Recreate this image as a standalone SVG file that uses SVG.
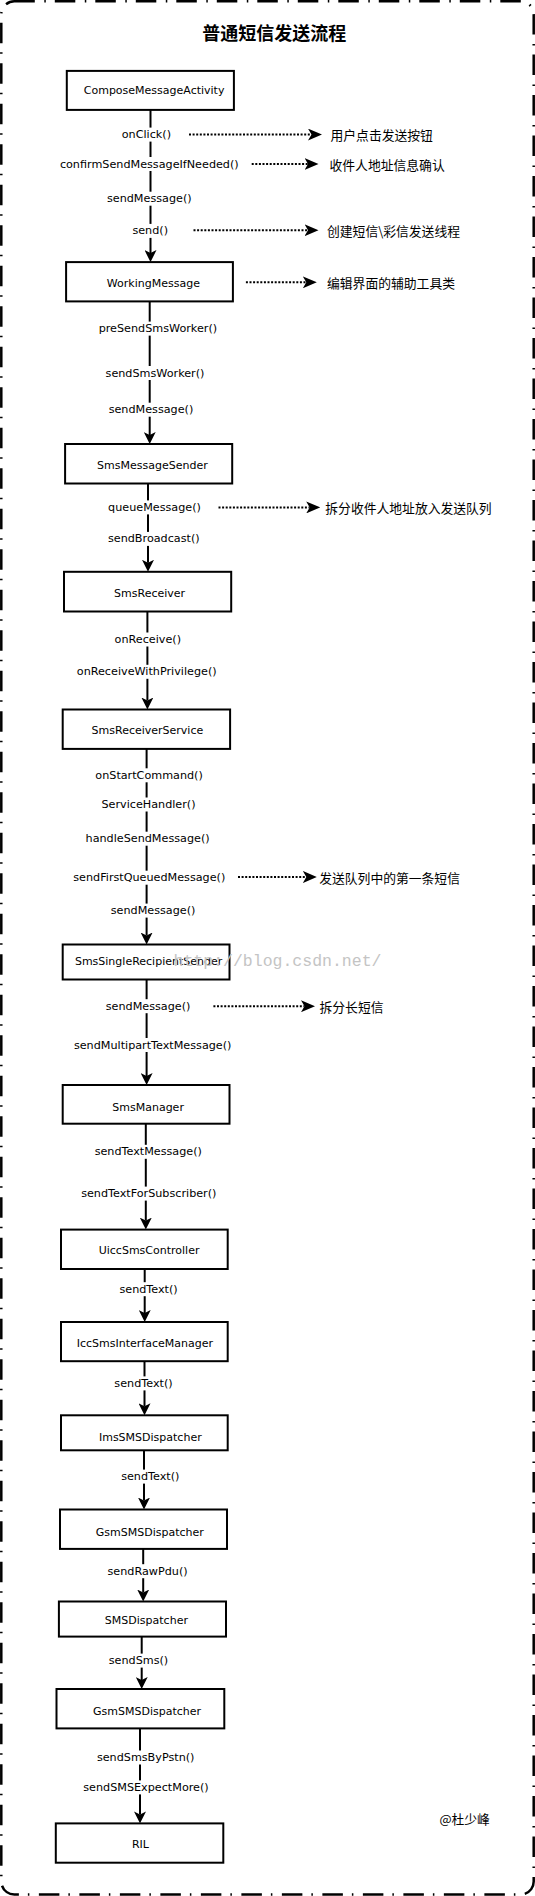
<svg xmlns="http://www.w3.org/2000/svg" width="535" height="1896" viewBox="0 0 535 1896">
<style>
.frame{fill:none;stroke:#000;stroke-width:2.5;stroke-dasharray:20.5 9.5 1.5 9}
.box{fill:#fff;stroke:#000;stroke-width:2}
.nt{font-family:"DejaVu Sans","Liberation Sans",sans-serif;font-size:11px;fill:#000;text-anchor:middle;dominant-baseline:central}
.lb{font-family:"DejaVu Sans","Liberation Sans",sans-serif;font-size:11.2px;fill:#000;text-anchor:middle;dominant-baseline:central}
.cn{font-family:"Noto Sans CJK SC","Noto Sans",sans-serif;font-size:12.8px;fill:#000;dominant-baseline:central}
.title{font-family:"Noto Sans CJK SC","Noto Sans",sans-serif;font-size:18px;font-weight:bold;fill:#000;text-anchor:middle;dominant-baseline:central}
.flow{fill:none;stroke:#000;stroke-width:2;marker-end:url(#ah)}
.dot{fill:none;stroke:#000;stroke-width:2;stroke-dasharray:2 1.6;marker-end:url(#ahd)}
.bg{fill:#fff}
.wm{font-family:"Liberation Mono","DejaVu Sans Mono",monospace;font-size:16.5px;fill:#c4c4c4;text-anchor:middle;dominant-baseline:central}
</style>
<defs>
<marker id="ah" markerUnits="userSpaceOnUse" markerWidth="12" markerHeight="12" viewBox="0 0 12 12" refX="3" refY="6" orient="auto">
<path d="M0,0 L12,6 L0,12 L3,6 Z" fill="#000"/>
</marker>
<marker id="ahd" markerUnits="userSpaceOnUse" markerWidth="14" markerHeight="12" viewBox="0 0 14 12" refX="3.5" refY="6" orient="auto">
<path d="M0,0 L14,6 L0,12 L3.5,6 Z" fill="#000"/>
</marker>
</defs>
<rect width="535" height="1896" fill="#fff"/>
<rect class="frame" x="1.3" y="1.3" width="532.4" height="1893.2" rx="13" ry="13"/>
<text class="title" x="274.3" y="31.7">普通短信发送流程</text>

<g id="connectors">
<path class="flow" d="M150.5,110 V253.1"/>
<path class="flow" d="M149.7,301.4 V435"/>
<path class="flow" d="M148,483.5 V562.8"/>
<path class="flow" d="M147.4,611.5 V700.5"/>
<path class="flow" d="M146.6,749 V935.5"/>
<path class="flow" d="M146.6,979.5 V1076"/>
<path class="flow" d="M145.8,1123.7 V1220.6"/>
<path class="flow" d="M144.7,1269 V1313"/>
<path class="flow" d="M144.5,1361.2 V1406.3"/>
<path class="flow" d="M144,1450.3 V1500.5"/>
<path class="flow" d="M143.2,1549 V1592.5"/>
<path class="flow" d="M141.7,1636.6 V1680"/>
<path class="flow" d="M140,1728.4 V1814.4"/>

<path class="dot" d="M189,134.6 H311.5"/>
<path class="dot" d="M251.7,164 H308"/>
<path class="dot" d="M193.5,230.2 H308"/>
<path class="dot" d="M245.9,282.3 H306.3"/>
<path class="dot" d="M218.5,507.4 H309.7"/>
<path class="dot" d="M238,877 H306.3"/>
<path class="dot" d="M213.4,1006.2 H304.5"/>

<g id="edge-labels">
<rect class="bg" x="119.6" y="127.6" width="53.6" height="14"/><text class="lb" x="146.4" y="134.6">onClick()</text>
<rect class="bg" x="56.9" y="157" width="184.8" height="14"/><text class="lb" x="149.3" y="164">confirmSendMessageIfNeeded()</text>
<rect class="bg" x="104.8" y="191.7" width="89" height="14"/><text class="lb" x="149.3" y="198.7">sendMessage()</text>
<rect class="bg" x="129.8" y="223.9" width="40.7" height="14"/><text class="lb" x="150.2" y="230.9">send()</text>
<rect class="bg" x="95.6" y="321.6" width="124.6" height="14"/><text class="lb" x="157.9" y="328.6">preSendSmsWorker()</text>
<rect class="bg" x="102.5" y="366" width="105" height="14"/><text class="lb" x="155" y="373">sendSmsWorker()</text>
<rect class="bg" x="106.6" y="402.7" width="88.9" height="14"/><text class="lb" x="151" y="409.7">sendMessage()</text>
<rect class="bg" x="105.9" y="500.4" width="97.1" height="14"/><text class="lb" x="154.5" y="507.4">queueMessage()</text>
<rect class="bg" x="105.9" y="531.9" width="95.8" height="14"/><text class="lb" x="153.8" y="538.9">sendBroadcast()</text>
<rect class="bg" x="112" y="632.5" width="71.5" height="14"/><text class="lb" x="147.8" y="639.5">onReceive()</text>
<rect class="bg" x="74" y="664.8" width="145.5" height="14"/><text class="lb" x="146.7" y="671.8">onReceiveWithPrivilege()</text>
<rect class="bg" x="93.2" y="768.3" width="111.8" height="14"/><text class="lb" x="149.1" y="775.3">onStartCommand()</text>
<rect class="bg" x="99.7" y="797.5" width="97.5" height="14"/><text class="lb" x="148.5" y="804.5">ServiceHandler()</text>
<rect class="bg" x="83.6" y="831.7" width="128" height="14"/><text class="lb" x="147.6" y="838.7">handleSendMessage()</text>
<rect class="bg" x="70.6" y="870.7" width="157.4" height="14"/><text class="lb" x="149.3" y="877.7">sendFirstQueuedMessage()</text>
<rect class="bg" x="108.3" y="903.6" width="89.6" height="14"/><text class="lb" x="153.1" y="910.6">sendMessage()</text>
<rect class="bg" x="103.5" y="999.2" width="89.3" height="14"/><text class="lb" x="148.1" y="1006.2">sendMessage()</text>
<rect class="bg" x="70.6" y="1038" width="164.3" height="14"/><text class="lb" x="152.7" y="1045">sendMultipartTextMessage()</text>
<rect class="bg" x="91.5" y="1144.8" width="113.6" height="14"/><text class="lb" x="148.3" y="1151.8">sendTextMessage()</text>
<rect class="bg" x="77.5" y="1186.6" width="142.7" height="14"/><text class="lb" x="148.8" y="1193.6">sendTextForSubscriber()</text>
<rect class="bg" x="115.5" y="1282.2" width="66.3" height="14"/><text class="lb" x="148.6" y="1289.2">sendText()</text>
<rect class="bg" x="110.3" y="1376.4" width="66.4" height="14"/><text class="lb" x="143.5" y="1383.4">sendText()</text>
<rect class="bg" x="117.2" y="1469.6" width="66.3" height="14"/><text class="lb" x="150.3" y="1476.6">sendText()</text>
<rect class="bg" x="104.8" y="1564.2" width="85.6" height="14"/><text class="lb" x="147.6" y="1571.2">sendRawPdu()</text>
<rect class="bg" x="106.6" y="1653.6" width="63.9" height="14"/><text class="lb" x="138.5" y="1660.6">sendSms()</text>
<rect class="bg" x="94.9" y="1750.5" width="101.6" height="14"/><text class="lb" x="145.7" y="1757.5">sendSmsByPstn()</text>
<rect class="bg" x="80.2" y="1780.4" width="131.7" height="14"/><text class="lb" x="146" y="1787.4">sendSMSExpectMore()</text>
</g>
</g>

<g id="notes">
<text class="cn" x="330.5" y="134.6">用户点击发送按钮</text>
<text class="cn" x="329.5" y="164">收件人地址信息确认</text>
<text class="cn" x="327" y="230.2">创建短信\彩信发送线程</text>
<text class="cn" x="327" y="282.3">编辑界面的辅助工具类</text>
<text class="cn" x="325.3" y="507.4">拆分收件人地址放入发送队列</text>
<text class="cn" x="319.2" y="877">发送队列中的第一条短信</text>
<text class="cn" x="319.5" y="1006.2">拆分长短信</text>
</g>

<g id="n1"><rect class="box" x="66.8" y="70.9" width="167.1" height="39"/><text class="nt" x="154.1" y="90.9">ComposeMessageActivity</text></g>
<g id="n2"><rect class="box" x="66.1" y="262.1" width="166.8" height="39.3"/><text class="nt" x="153.4" y="283">WorkingMessage</text></g>
<g id="n3"><rect class="box" x="65.1" y="444" width="167.1" height="39.5"/><text class="nt" x="152.4" y="465">SmsMessageSender</text></g>
<g id="n4"><rect class="box" x="64" y="571.8" width="167.2" height="39.7"/><text class="nt" x="149.6" y="593.2">SmsReceiver</text></g>
<g id="n5"><rect class="box" x="62.7" y="709.5" width="167.4" height="39.4"/><text class="nt" x="147.4" y="730.3">SmsReceiverService</text></g>
<g id="n6"><rect class="box" x="62.7" y="944.5" width="166.8" height="35"/><text class="nt" x="148.6" y="961">SmsSingleRecipientSender</text></g>
<g id="n7"><rect class="box" x="62.7" y="1085" width="166.8" height="38.7"/><text class="nt" x="148.1" y="1107">SmsManager</text></g>
<g id="n8"><rect class="box" x="61" y="1229.6" width="166.7" height="39.4"/><text class="nt" x="149.1" y="1250.7">UiccSmsController</text></g>
<g id="n9"><rect class="box" x="61" y="1322" width="166.7" height="39.2"/><text class="nt" x="144.9" y="1343.9">IccSmsInterfaceManager</text></g>
<g id="n10"><rect class="box" x="61" y="1415.3" width="166.7" height="35"/><text class="nt" x="150.3" y="1437">ImsSMSDispatcher</text></g>
<g id="n11"><rect class="box" x="60" y="1509.5" width="167" height="39.4"/><text class="nt" x="149.8" y="1532.5">GsmSMSDispatcher</text></g>
<g id="n12"><rect class="box" x="58.9" y="1601.5" width="167.1" height="35.1"/><text class="nt" x="146.4" y="1620.7">SMSDispatcher</text></g>
<g id="n13"><rect class="box" x="56.5" y="1689" width="167.8" height="39.4"/><text class="nt" x="147" y="1711.1">GsmSMSDispatcher</text></g>
<g id="n14"><rect class="box" x="55.8" y="1823.4" width="167.5" height="39.3"/><text class="nt" x="140.4" y="1844.5">RIL</text></g>

<text class="cn" x="439.4" y="1818.2">@杜少峰</text>
<text class="wm" x="277.5" y="961">http://blog.csdn.net/</text>
</svg>
